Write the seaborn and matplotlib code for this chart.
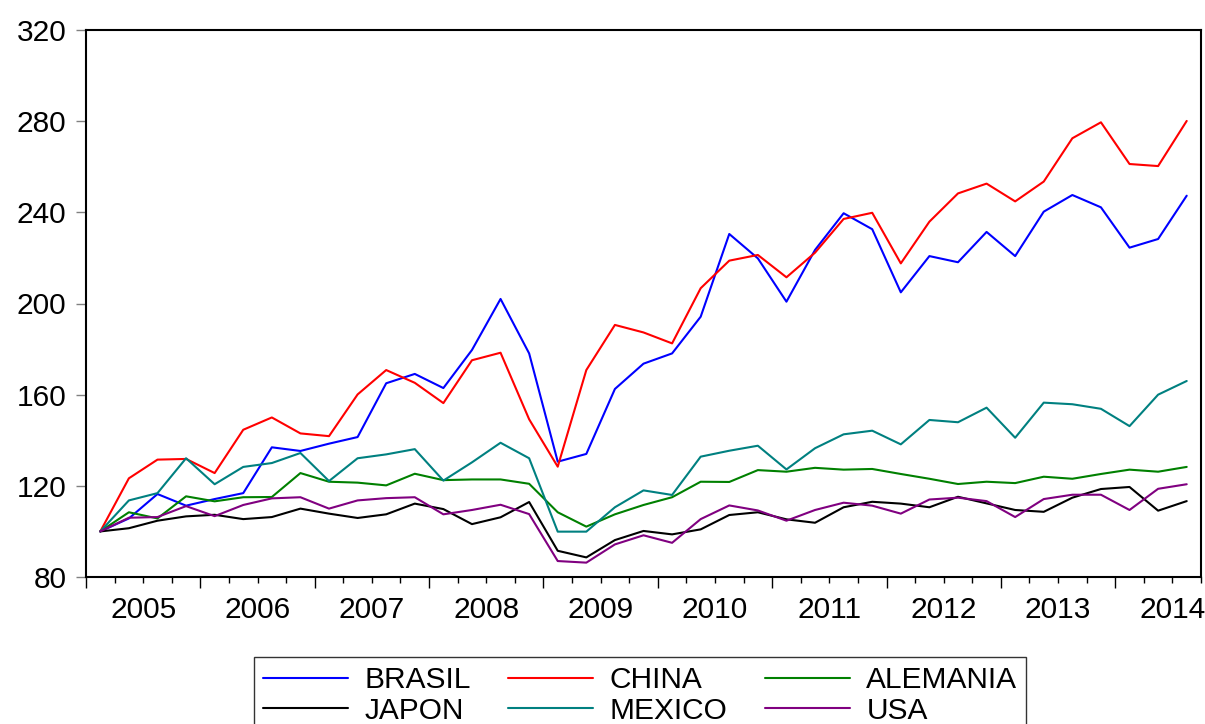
import numpy as np
import pandas as pd
import matplotlib
matplotlib.use("Agg")
import matplotlib.pyplot as plt
import seaborn as sns
from matplotlib.ticker import FixedLocator, NullFormatter

# Quarterly index values, 2005Q1 - 2014Q3 (base = 100)
years = [str(y) for y in range(2005, 2015)]
brasil = [100, 105.7, 116.4, 111.3, 114.2, 116.8, 136.9, 135.3, 138.5, 141.4,
          165.0, 169.1, 162.9, 179.6, 202.0, 178.1, 130.6, 134.0, 162.5, 173.6,
          178.1, 194.2, 230.5, 219.8, 200.8, 223.5, 239.6, 232.6, 204.9, 220.8,
          218.1, 231.4, 220.8, 240.3, 247.6, 242.2, 224.5, 228.3, 247.3]
china = [100, 123.3, 131.5, 131.8, 125.6, 144.6, 150.0, 143.0, 141.8, 160.1,
         170.8, 165.2, 156.3, 175.1, 178.4, 149.2, 128.4, 170.8, 190.6, 187.3,
         182.5, 206.7, 218.8, 221.3, 211.5, 222.3, 237.1, 239.8, 217.6, 235.9,
         248.3, 252.6, 244.8, 253.5, 272.5, 279.5, 261.2, 260.3, 280.1]
alemania = [100, 108.4, 105.7, 115.4, 113.2, 115.0, 115.1, 125.6, 121.8, 121.4,
            120.2, 125.3, 122.5, 122.8, 122.8, 120.9, 108.4, 102.1, 107.5, 111.6,
            115.0, 121.8, 121.7, 126.9, 126.2, 127.9, 127.1, 127.4, 125.2, 123.1,
            120.8, 121.8, 121.2, 124.0, 123.1, 125.2, 127.1, 126.2, 128.3]
japon = [100, 101.4, 104.7, 106.6, 107.3, 105.4, 106.3, 110.0, 107.8, 105.9,
         107.5, 112.2, 109.8, 103.2, 106.2, 112.9, 91.5, 88.6, 96.2, 100.2,
         98.7, 100.9, 107.2, 108.4, 105.3, 103.8, 110.6, 113.0, 112.2, 110.6,
         115.2, 112.3, 109.4, 108.6, 114.8, 118.6, 119.5, 109.1, 113.3]
mexico = [100, 113.6, 116.8, 132.1, 120.7, 128.3, 130.0, 134.4, 122.1, 132.1,
          133.8, 136.1, 122.3, 130.3, 138.9, 132.1, 99.9, 99.9, 110.6, 118.0,
          116.0, 132.8, 135.4, 137.6, 127.2, 136.5, 142.6, 144.2, 138.2, 148.9,
          147.9, 154.3, 141.1, 156.5, 155.8, 153.8, 146.2, 160.0, 166.0]
usa = [100, 106.0, 106.3, 111.1, 106.7, 111.6, 114.5, 115.0, 110.0, 113.6,
       114.6, 115.0, 107.5, 109.4, 111.7, 107.6, 87.0, 86.3, 94.3, 98.3,
       95.0, 105.4, 111.4, 109.2, 104.7, 109.4, 112.6, 111.3, 107.8, 114.0,
       114.8, 113.3, 106.3, 114.2, 116.1, 116.1, 109.4, 118.7, 120.7]

series = {"BRASIL": brasil, "CHINA": china, "ALEMANIA": alemania,
          "JAPON": japon, "MEXICO": mexico, "USA": usa}
colors = {"BRASIL": "#0000ff", "CHINA": "#ff0000", "ALEMANIA": "#008000",
          "JAPON": "#000000", "MEXICO": "#008080", "USA": "#800080"}

n = len(brasil)
df = pd.concat([pd.DataFrame({"t": np.arange(n), "valor": v, "pais": k})
                for k, v in series.items()], ignore_index=True)

sns.set_style("white")
plt.rcParams["font.family"] = ["Liberation Sans", "DejaVu Sans"]
plt.rcParams["text.color"] = "black"
plt.rcParams["xtick.color"] = "black"
plt.rcParams["ytick.color"] = "black"

fig = plt.figure(figsize=(12.05, 7.24), dpi=100)
ax = fig.add_axes([86 / 1205, 1 - 577 / 724, (1201 - 86) / 1205, (577 - 30) / 724])

sns.lineplot(data=df, x="t", y="valor", hue="pais", hue_order=list(series),
             palette=colors, linewidth=1.5, legend=False, ax=ax)

ax.set_xlim(-0.5, n - 0.5)
ax.set_ylim(80, 320)
ax.set_yticks(range(80, 321, 40))
ax.set_xlabel("")
ax.set_ylabel("")

# year boundaries (long ticks) and quarter ticks (short)
ax.xaxis.set_major_locator(FixedLocator(np.arange(-0.5, n, 4)))
ax.xaxis.set_minor_locator(FixedLocator(np.arange(-0.5, n + 0.5, 1)))
ax.xaxis.set_major_formatter(NullFormatter())
ax.tick_params(axis="x", which="both", bottom=True, direction="out", width=1)
ax.tick_params(axis="x", which="major", length=8)
ax.tick_params(axis="x", which="minor", length=4.5)
ax.tick_params(axis="y", left=True, length=7, width=1, color="#808080",
               labelcolor="black", pad=7, labelsize=21.5)

for i, y in enumerate(years):
    ax.text(4 * i + 1.5, -0.034, y, transform=ax.get_xaxis_transform(),
            ha="center", va="top", fontsize=21.5)

for s in ax.spines.values():
    s.set_visible(True)
    s.set_color("black")
    s.set_linewidth(1.5)

handles = [plt.Line2D([], [], color=colors[k], linewidth=1.5) for k in series]
order = [0, 3, 1, 4, 2, 5]
leg = fig.legend([handles[i] for i in order], [list(series)[i] for i in order],
                 loc="upper left", bbox_to_anchor=(254 / 1205, 1 - 657 / 724),
                 ncol=3, fontsize=21.5, frameon=True, fancybox=False,
                 edgecolor="#333333", framealpha=1, handlelength=2.85,
                 handletextpad=0.55, columnspacing=1.25, labelspacing=0.1,
                 borderpad=0.3, borderaxespad=0)
leg.get_frame().set_linewidth(1)

fig.savefig("out.png", dpi=100)
